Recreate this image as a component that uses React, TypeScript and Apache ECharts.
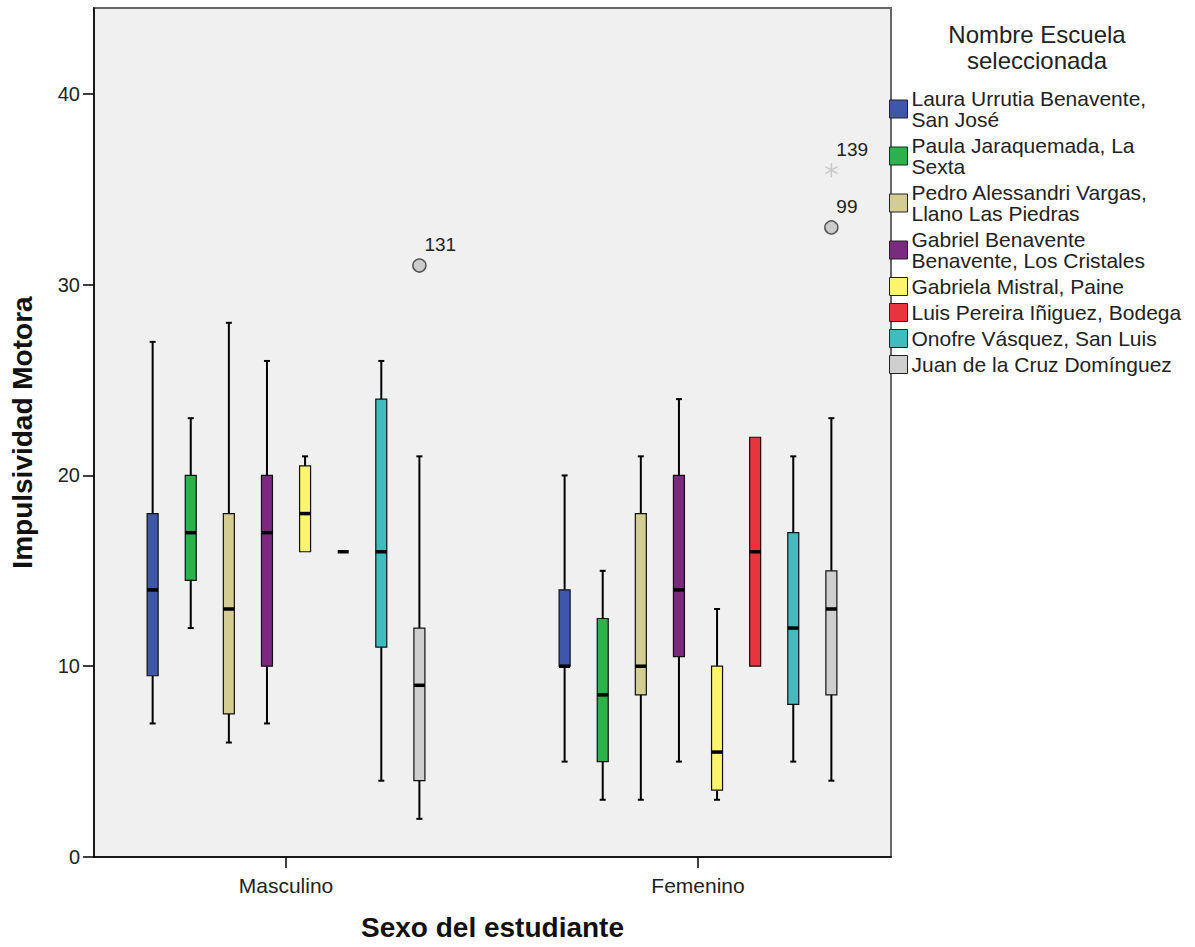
import React, { useEffect, useRef } from "react";
import * as echarts from "echarts";

const groups = ["Masculino", "Femenino"];
const schools = [
  "Laura Urrutia Benavente, San José",
  "Paula Jaraquemada, La Sexta",
  "Pedro Alessandri Vargas, Llano Las Piedras",
  "Gabriel Benavente Benavente, Los Cristales",
  "Gabriela Mistral, Paine",
  "Luis Pereira Iñiguez, Bodega",
  "Onofre Vásquez, San Luis",
  "Juan de la Cruz Domínguez",
];
const legendLabels = [
  "Laura Urrutia Benavente,\nSan José",
  "Paula Jaraquemada, La\nSexta",
  "Pedro Alessandri Vargas,\nLlano Las Piedras",
  "Gabriel Benavente\nBenavente, Los Cristales",
  "Gabriela Mistral, Paine",
  "Luis Pereira Iñiguez, Bodega",
  "Onofre Vásquez, San Luis",
  "Juan de la Cruz Domínguez",
];
const colors = ["#3f57a8", "#2db14a", "#d4cd93", "#7b2a80", "#fbf46c", "#e8353b", "#40bcbf", "#cfcfcf"];

// [min, Q1, median, Q3, max] per school, for Masculino and Femenino
const masculino = [
  [7, 9.5, 14, 18, 27],
  [12, 14.5, 17, 20, 23],
  [6, 7.5, 13, 18, 28],
  [7, 10, 17, 20, 26],
  [16, 16, 18, 20.5, 21],
  [16, 16, 16, 16, 16],
  [4, 11, 16, 24, 26],
  [2, 4, 9, 12, 21],
];
const femenino = [
  [5, 10, 10, 14, 20],
  [3, 5, 8.5, 12.5, 15],
  [3, 8.5, 10, 18, 21],
  [5, 10.5, 14, 20, 24],
  [3, 3.5, 5.5, 10, 13],
  [10, 10, 16, 22, 22],
  [5, 8, 12, 17, 21],
  [4, 8.5, 13, 15, 23],
];
// outliers: [groupIndex, schoolIndex, value, case id, kind (0 circle, 1 extreme)]
const outliers = [
  [0, 7, 31, "131", 0],
  [1, 7, 33, "99", 0],
  [1, 7, 36, "139", 1],
];
const yTicks = [0, 10, 20, 30, 40];

const FONT = "Liberation Sans, Arial, sans-serif";
const SPACING = 0.0925;
const BOX_W = 11;

export default function App() {
  const ref = useRef<HTMLDivElement>(null);
  useEffect(() => {
    const chart = echarts.init(ref.current!, null, { renderer: "svg" });
    const boxSeries = schools.map((name, s) => ({
      type: "custom",
      name,
      itemStyle: { color: colors[s] },
      encode: { x: 0, y: [1, 2, 3, 4, 5] },
      data: [
        [0, ...masculino[s]],
        [1, ...femenino[s]],
      ],
      renderItem: (params: any, api: any) => {
        const g = api.value(0);
        const xv = g + (s - 3.5) * SPACING;
        const p = (v: number) => api.coord([xv, v]);
        const [cx, yMin] = p(api.value(1));
        const yQ1 = p(api.value(2))[1];
        const yMed = p(api.value(3))[1];
        const yQ3 = p(api.value(4))[1];
        const yMax = p(api.value(5))[1];
        const h = BOX_W / 2;
        const ls = { stroke: "#000", lineWidth: 2 };
        const children: any[] = [];
        if (yMax < yQ3 - 0.5) {
          children.push({ type: "line", shape: { x1: cx, y1: yMax, x2: cx, y2: yQ3 }, style: ls });
          children.push({ type: "line", shape: { x1: cx - 3, y1: yMax, x2: cx + 3, y2: yMax }, style: ls });
        }
        if (yMin > yQ1 + 0.5) {
          children.push({ type: "line", shape: { x1: cx, y1: yQ1, x2: cx, y2: yMin }, style: ls });
          children.push({ type: "line", shape: { x1: cx - 3, y1: yMin, x2: cx + 3, y2: yMin }, style: ls });
        }
        if (yQ1 - yQ3 > 0.5) {
          children.push({
            type: "rect",
            shape: { x: cx - h, y: yQ3, width: BOX_W, height: yQ1 - yQ3 },
            style: { fill: colors[s], stroke: "#111", lineWidth: 1.2 },
          });
        }
        children.push({
          type: "line",
          shape: { x1: cx - h, y1: yMed, x2: cx + h, y2: yMed },
          style: { stroke: "#000", lineWidth: 3.5 },
        });
        return { type: "group", children };
      },
    }));

    const outlierSeries = {
      type: "custom",
      name: "outliers",
      encode: { x: 0, y: 1 },
      data: outliers.map((o) => [(o[0] as number) + ((o[1] as number) - 3.5) * SPACING, o[2], o[3], o[4]]),
      renderItem: (params: any, api: any) => {
        const [cx, cy] = api.coord([api.value(0), api.value(1)]);
        const id = outliers[params.dataIndex][3] as string;
        const kind = outliers[params.dataIndex][4];
        const children: any[] = [];
        if (kind === 0) {
          children.push({
            type: "circle",
            shape: { cx, cy, r: 6.5 },
            style: { fill: "#cccccc", stroke: "#555", lineWidth: 1.5 },
          });
        } else {
          const r = 7;
          [90, 30, 150].forEach((a) => {
            const rad = (a * Math.PI) / 180;
            children.push({
              type: "line",
              shape: {
                x1: cx - r * Math.cos(rad),
                y1: cy - r * Math.sin(rad),
                x2: cx + r * Math.cos(rad),
                y2: cy + r * Math.sin(rad),
              },
              style: { stroke: "#c8c8c8", lineWidth: 1.5 },
            });
          });
        }
        children.push({
          type: "text",
          x: cx + 5,
          y: cy - 21,
          style: {
            text: id,
            fill: "#222",
            fontSize: 19,
            fontFamily: FONT,
            align: "left",
            verticalAlign: "middle",
          },
        });
        return { type: "group", children };
      },
    };

    chart.setOption({
      animation: false,
      backgroundColor: "#ffffff",
      grid: {
        left: 92,
        right: 304,
        top: 8,
        bottom: 90,
        show: true,
        backgroundColor: "#f0f0f0",
        borderColor: "#666",
        borderWidth: 2,
      },
      legend: {
        orient: "vertical",
        left: 889,
        top: 88,
        padding: 0,
        itemWidth: 18,
        itemHeight: 18,
        itemGap: 5,
        icon: "rect",
        selectedMode: false,
        data: schools,
        formatter: (name: string) => legendLabels[schools.indexOf(name)],
        itemStyle: { borderColor: "#222", borderWidth: 1 },
        textStyle: { fontFamily: FONT, fontSize: 21, lineHeight: 21, color: "#222", padding: [0, 0, 0, -1] },
      },
      graphic: [
        {
          type: "text",
          x: 1037,
          y: 21,
          style: {
            text: "Nombre Escuela\nseleccionada",
            fontFamily: FONT,
            fontSize: 24,
            lineHeight: 26,
            fill: "#222",
            align: "center",
            verticalAlign: "top",
          },
        },
      ],
      xAxis: {
        type: "value",
        min: -0.4661,
        max: 1.4685,
        splitLine: { show: false },
        axisLine: { show: true, lineStyle: { color: "#000", width: 1.5 } },
        axisTick: { show: true, customValues: [0, 1], length: 11, lineStyle: { color: "#000", width: 1.5 } },
        axisLabel: {
          customValues: [0, 1],
          formatter: (v: number) => groups[Math.round(v)] ?? "",
          fontFamily: FONT,
          fontSize: 21,
          color: "#222",
          margin: 18,
        },
        name: "Sexo del estudiante",
        nameLocation: "middle",
        nameGap: 56,
        nameTextStyle: { fontFamily: FONT, fontWeight: "bold", fontSize: 28, color: "#111" },
      },
      yAxis: {
        type: "value",
        min: 0,
        max: 44.5,
        interval: 10,
        splitLine: { show: false },
        axisLine: { show: true, onZero: false, lineStyle: { color: "#000", width: 1.5 } },
        axisTick: { show: true, customValues: yTicks, length: 11, lineStyle: { color: "#000", width: 1.5 } },
        axisLabel: {
          customValues: yTicks,
          fontFamily: FONT,
          fontSize: 20,
          color: "#222",
          margin: 14,
        },
        name: "Impulsividad Motora",
        nameLocation: "middle",
        nameGap: 58,
        nameTextStyle: { fontFamily: FONT, fontWeight: "bold", fontSize: 28, color: "#111" },
      },
      series: [...boxSeries, outlierSeries],
    });
    return () => chart.dispose();
  }, []);
  return (
    <div
      ref={ref}
      style={{ position: "absolute", left: 0, top: 0, width: 1195, height: 947 }}
    />
  );
}
